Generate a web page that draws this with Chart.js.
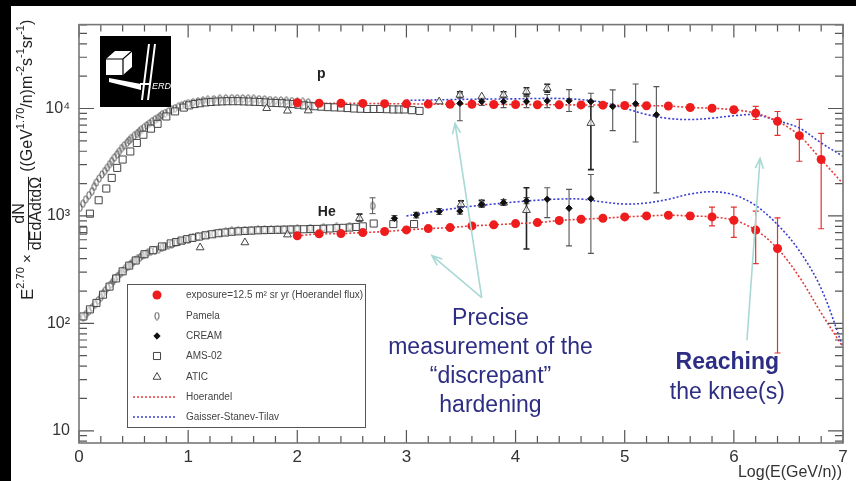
<!DOCTYPE html>
<html>
<head>
<meta charset="utf-8">
<script src="https://cdn.jsdelivr.net/npm/chart.js@4.4.0/dist/chart.umd.min.js"></script>
<style>
  html, body { margin: 0; padding: 0; background: #000; }
  #panel { position: absolute; left: 11px; top: 6px; width: 845px; height: 475px; background: #fff; }
</style>
</head>
<body>
<div id="panel"><canvas id="fluxChart" width="845" height="475"></canvas></div>
<script>
const FONT = "'Liberation Sans', Arial, Helvetica, sans-serif"

// axis ticks
const xTickVals = [0, 1, 2, 3, 4, 5, 6, 7]
const xTickText = ['0', '1', '2', '3', '4', '5', '6', '7']
const yTickVals = [10, 100, 1000, 10000]
const yTickText = ['10', '10²', '10³', '10⁴']

// simulated HERD points (exposure 12.5 m2 sr yr, Hoerandel flux)
const herdPE = [2.0, 2.2, 2.4, 2.6, 2.8, 3.0, 3.2, 3.4, 3.6, 3.8, 4.0, 4.2, 4.4, 4.6, 4.8, 5.0, 5.2, 5.4, 5.6, 5.8, 6.0, 6.2, 6.4, 6.6, 6.8]
const herdP = [11300, 11200, 11200, 11150, 11100, 11050, 11000, 10950, 10950, 10900, 10900, 10850, 10820, 10800, 10750, 10660, 10620, 10550, 10210, 10060, 9730, 9040, 7590, 5590, 3350]
const herdPErr = [[5.6, 9800, 10650], [5.8, 9550, 10550], [6.0, 9200, 10250], [6.2, 7900, 10450], [6.4, 5620, 9380], [6.6, 3230, 7910], [6.8, 760, 5880]]
const herdHeE = [2.0, 2.2, 2.4, 2.6, 2.8, 3.0, 3.2, 3.4, 3.6, 3.8, 4.0, 4.2, 4.4, 4.6, 4.8, 5.0, 5.2, 5.4, 5.6, 5.8, 6.0, 6.2, 6.4]
const herdHe = [653, 681, 685, 700, 716, 741, 762, 779, 808, 826, 849, 867, 906, 932, 952, 979, 1000, 1015, 1000, 979, 912, 738, 498]
const herdHeErr = [[5.0, 940, 1020], [5.2, 955, 1045], [5.4, 960, 1070], [5.6, 930, 1060], [5.8, 807, 1210], [6.0, 631, 1210], [6.2, 360, 1110], [6.4, 53, 958]]

// model curves
const hoerE = [2.0, 2.2, 2.4, 2.6, 2.8, 3.0, 3.2, 3.4, 3.6, 3.8, 4.0, 4.2, 4.4, 4.6, 4.8, 5.0, 5.2, 5.4, 5.6, 5.8, 6.0, 6.2, 6.4, 6.6, 6.8, 7.0]
const hoerP = [11300, 11200, 11200, 11150, 11100, 11050, 11000, 10950, 10950, 10900, 10900, 10850, 10820, 10800, 10750, 10660, 10620, 10550, 10210, 10060, 9730, 9040, 7590, 5590, 3350, 2000]
const hoerHe = [653, 681, 685, 700, 716, 741, 762, 779, 808, 826, 849, 867, 906, 932, 952, 979, 1000, 1015, 1000, 979, 912, 738, 498, 270, 125, 60]
const gstE = [3.0, 3.2, 3.4, 3.6, 3.8, 4.0, 4.2, 4.4, 4.6, 4.8, 5.0, 5.2, 5.4, 5.6, 5.8, 6.0, 6.2, 6.4, 6.6, 6.8, 7.0]
const gstP = [11900, 12000, 12100, 12200, 12250, 12300, 12400, 12400, 12100, 11400, 10050, 8800, 8080, 7900, 8130, 8560, 8740, 7690, 6580, 4780, 3590]
const gstHe = [1000, 1080, 1160, 1230, 1290, 1350, 1400, 1435, 1435, 1350, 1290, 1320, 1430, 1600, 1680, 1570, 1250, 830, 474, 211, 60]

// Pamela
const pamelaPE = [0.01, 0.035, 0.06, 0.09, 0.12, 0.14, 0.16, 0.185, 0.21, 0.235, 0.26, 0.28, 0.30, 0.325, 0.35, 0.37, 0.39, 0.415, 0.44, 0.46, 0.48, 0.505, 0.53, 0.55, 0.57, 0.595, 0.62, 0.645, 0.67, 0.695, 0.72, 0.74, 0.76, 0.79, 0.82, 0.85, 0.88, 0.91, 0.94, 0.97, 1.00, 1.045, 1.09, 1.135, 1.18, 1.235, 1.29, 1.345, 1.40, 1.45, 1.50, 1.55, 1.60, 1.65, 1.70, 1.75, 1.80, 1.85, 1.90, 1.95, 2.00, 2.05, 2.10]
const pamelaP = [1190, 1300, 1420, 1560, 1700, 1870, 2050, 2240, 2430, 2620, 2820, 3030, 3240, 3490, 3750, 4000, 4280, 4540, 4800, 5050, 5310, 5550, 5800, 6050, 6320, 6630, 6950, 7260, 7580, 7860, 8150, 8450, 8750, 9070, 9400, 9730, 10060, 10350, 10650, 10920, 11200, 11420, 11650, 11850, 12030, 12170, 12300, 12380, 12450, 12430, 12400, 12350, 12300, 12200, 12100, 12000, 11900, 11850, 11780, 11700, 11600, 11500, 11400]
const pamelaHeE = [0.04, 0.065, 0.09, 0.12, 0.15, 0.175, 0.20, 0.22, 0.24, 0.265, 0.29, 0.31, 0.33, 0.355, 0.38, 0.40, 0.42, 0.445, 0.47, 0.49, 0.51, 0.535, 0.56, 0.58, 0.60, 0.63, 0.66, 0.695, 0.73, 0.76, 0.79, 0.82, 0.85, 0.885, 0.92, 0.96, 1.00, 1.045, 1.09, 1.135, 1.18, 1.235, 1.29, 1.345, 1.40, 1.46, 1.52, 1.58, 1.64, 1.70, 1.76, 1.82, 1.88, 1.94, 2.00, 2.12, 2.24, 2.36, 2.48, 2.69]
const pamelaHe = [114, 122, 130, 140, 151, 163, 175, 188, 202, 216, 230, 245, 260, 275, 290, 305, 321, 336, 352, 367, 383, 398, 412, 427, 441, 455, 468, 480, 492, 506, 520, 533, 547, 562, 578, 593, 608, 624, 640, 654, 667, 682, 697, 712, 726, 730, 735, 737, 740, 742, 745, 747, 750, 755, 760, 770, 780, 790, 800, 1240]
const pamelaHeErr = [[2.69, 1050, 1475]]

// CREAM
const creamPE = [3.49, 3.69, 3.89, 4.10, 4.29, 4.49, 4.69, 4.89, 5.10, 5.29]
const creamP = [11190, 11600, 11600, 11600, 11780, 11780, 11600, 10440, 11060, 8740]
const creamPErr = [[3.49, 7690, 13870], [3.69, 10700, 12600], [3.89, 10200, 12900], [4.10, 10200, 12900], [4.29, 10200, 13500], [4.49, 9380, 15000], [4.69, 10400, 13870], [4.89, 6220, 14900], [5.10, 4880, 16930], [5.29, 1640, 16000]]
const creamHeE = [2.89, 3.09, 3.30, 3.49, 3.69, 3.89, 4.10, 4.29, 4.49, 4.69]
const creamHe = [950, 1020, 1100, 1110, 1280, 1330, 1380, 1430, 1180, 1445]
const creamHeErr = [[2.89, 900, 1010], [3.09, 960, 1080], [3.30, 1030, 1170], [3.49, 1040, 1190], [3.69, 1200, 1380], [3.89, 1250, 1420], [4.10, 1300, 1480], [4.29, 964, 1830], [4.49, 527, 1766], [4.69, 448, 2430]]

// AMS-02
const amsPE = [0.04, 0.10, 0.18, 0.25, 0.30, 0.35, 0.40, 0.47, 0.53, 0.59, 0.66, 0.72, 0.80, 0.88, 0.96, 1.01, 1.06, 1.11, 1.16, 1.21, 1.26, 1.31, 1.36, 1.41, 1.46, 1.51, 1.56, 1.61, 1.66, 1.71, 1.76, 1.81, 1.86, 1.91, 1.96, 2.01, 2.06, 2.11, 2.16, 2.22, 2.28, 2.34, 2.40, 2.46, 2.52, 2.58, 2.64, 2.70, 2.76, 2.82, 2.88, 2.93, 2.98, 3.05, 3.12]
const amsP = [730, 1050, 1400, 1800, 2260, 2800, 3350, 3980, 4780, 5700, 6500, 7200, 8430, 9400, 10200, 10700, 11000, 11200, 11400, 11500, 11600, 11650, 11700, 11700, 11700, 11650, 11600, 11550, 11500, 11400, 11300, 11250, 11200, 11100, 11000, 10850, 10700, 10600, 10500, 10400, 10300, 10250, 10200, 10100, 10000, 9950, 9900, 9900, 9900, 9850, 9800, 9800, 9800, 9650, 9500]
const amsHeE = [0.04, 0.10, 0.16, 0.22, 0.28, 0.34, 0.40, 0.46, 0.52, 0.60, 0.68, 0.76, 0.84, 0.89, 0.94, 0.99, 1.04, 1.10, 1.16, 1.22, 1.28, 1.34, 1.40, 1.46, 1.52, 1.58, 1.64, 1.70, 1.76, 1.82, 1.88, 1.94, 2.00, 2.06, 2.12, 2.18, 2.24, 2.30, 2.36, 2.42, 2.48, 2.54, 2.60, 2.70, 2.88, 3.07]
const amsHe = [116, 135, 155, 185, 220, 262, 305, 345, 385, 440, 480, 520, 555, 572, 590, 608, 625, 643, 660, 675, 690, 701, 712, 719, 725, 730, 735, 738, 740, 743, 745, 748, 750, 752, 755, 757, 760, 765, 770, 775, 780, 790, 800, 850, 840, 840]

// ATIC
const aticPE = [1.72, 1.91, 2.10, 3.30, 3.49, 3.69, 3.89, 4.10, 4.29, 4.69]
const aticP = [10060, 9520, 9560, 11600, 13390, 12900, 13390, 14400, 15400, 7310]
const aticPErr = [[3.49, 12600, 14300], [3.89, 12600, 14300], [4.10, 13400, 15600], [4.29, 14200, 16800], [4.69, 2700, 11600]]
const aticHeE = [1.11, 1.52, 1.91, 2.57, 3.50, 3.69, 3.89, 4.10]
const aticHe = [508, 566, 670, 950, 1282, 1300, 1330, 1130]
const aticHeErr = [[2.57, 900, 1040], [3.50, 1220, 1380], [3.69, 1240, 1400], [4.10, 492, 1830]]

// annotations, placed in data coordinates
const noteHardening = { x: 3.77, y: 111, lines: ['Precise', 'measurement of the', '\u201cdiscrepant\u201d', 'hardening'] }
const noteKnee = { x: 5.94, y: 42.7, lines: ['Reaching', 'the knee(s)'] }
const arrows = [
    { from: [3.69, 174], to: [3.445, 7260] },
    { from: [3.69, 174], to: [3.234, 427] },
    { from: [6.12, 69.7], to: [6.24, 3440] },
]
const speciesLabels = [{ text: 'p', x: 2.22, y: 21100 }, { text: 'He', x: 2.27, y: 1090 }]

const toPts = (xs, ys) => xs.map((x, i) => ({ x, y: ys[i] }))

// narrow open ellipse marker used for Pamela
const pamelaMarker = document.createElement('canvas')
pamelaMarker.width = 6
pamelaMarker.height = 9
const pm = pamelaMarker.getContext('2d')
pm.strokeStyle = '#555'
pm.lineWidth = 1
pm.beginPath()
pm.ellipse(3, 4.5, 2.1, 3.7, 0, 0, Math.PI * 2)
pm.stroke()

const redStyle = { pointStyle: 'circle', pointRadius: 4.5, backgroundColor: '#ee1c1c', borderColor: '#ee1c1c', borderWidth: 0, errColor: '#e53030', errWidth: 1.2 }
const creamStyle = { pointStyle: 'rectRot', pointRadius: 3.2, backgroundColor: '#111', borderColor: '#111', borderWidth: 1, errColor: '#555', errWidth: 1.1 }
const aticStyle = { pointStyle: 'triangle', pointRadius: 4.5, backgroundColor: 'rgba(255,255,255,0.7)', borderColor: '#444', borderWidth: 1, errColor: '#222', errWidth: 1.6 }
const amsStyle = { pointStyle: 'rect', pointRadius: 5, backgroundColor: 'rgba(255,255,255,0.5)', borderColor: '#444', borderWidth: 1 }
const pamelaStyle = { pointStyle: pamelaMarker, pointRadius: 3, borderWidth: 1, errColor: '#555', errWidth: 1 }
const hoerStyle = { showLine: true, pointRadius: 0, borderColor: '#e83a3a', borderWidth: 1.6, borderDash: [2, 2], tension: 0.35, fill: false }
const gstStyle = { showLine: true, pointRadius: 0, borderColor: '#3b3fd4', borderWidth: 1.6, borderDash: [2, 2], tension: 0.35, fill: false }

const datasets = [
    { label: 'herd p', data: toPts(herdPE, herdP), errorBars: herdPErr, ...redStyle },
    { label: 'herd He', data: toPts(herdHeE, herdHe), errorBars: herdHeErr, ...redStyle },
    { label: 'CREAM p', data: toPts(creamPE, creamP), errorBars: creamPErr, ...creamStyle },
    { label: 'CREAM He', data: toPts(creamHeE, creamHe), errorBars: creamHeErr, ...creamStyle },
    { label: 'ATIC p', data: toPts(aticPE, aticP), errorBars: aticPErr, ...aticStyle },
    { label: 'ATIC He', data: toPts(aticHeE, aticHe), errorBars: aticHeErr, ...aticStyle },
    { label: 'AMS p', data: toPts(amsPE, amsP), ...amsStyle },
    { label: 'AMS He', data: toPts(amsHeE, amsHe), ...amsStyle },
    { label: 'Pamela p', data: toPts(pamelaPE, pamelaP), ...pamelaStyle },
    { label: 'Pamela He', data: toPts(pamelaHeE, pamelaHe), errorBars: pamelaHeErr, ...pamelaStyle },
    { label: 'Hoerandel p', data: toPts(hoerE, hoerP), ...hoerStyle },
    { label: 'Hoerandel He', data: toPts(hoerE, hoerHe), ...hoerStyle },
    { label: 'GST p', data: toPts(gstE, gstP), ...gstStyle },
    { label: 'GST He', data: toPts(gstE, gstHe), ...gstStyle },
]

const legendRows = [
    { text: 'exposure=12.5 m² sr yr (Hoerandel flux)', style: redStyle },
    { text: 'Pamela', style: pamelaStyle },
    { text: 'CREAM', style: creamStyle },
    { text: 'AMS-02', style: amsStyle },
    { text: 'ATIC', style: aticStyle },
    { text: 'Hoerandel', line: hoerStyle },
    { text: 'Gaisser-Stanev-Tilav', line: gstStyle },
]

const errorBarPlugin = {
    id: 'errorBars',
    beforeDatasetsDraw(chart) {
        const { ctx, chartArea: a, scales: { x, y } } = chart
        ctx.save()
        ctx.beginPath()
        ctx.rect(a.left, a.top, a.right - a.left, a.bottom - a.top)
        ctx.clip()
        chart.data.datasets.forEach(ds => {
            if (!ds.errorBars) return
            ctx.strokeStyle = ds.errColor
            ctx.lineWidth = ds.errWidth
            ds.errorBars.forEach(([e, lo, hi]) => {
                const px = x.getPixelForValue(e)
                const p1 = y.getPixelForValue(lo)
                const p2 = y.getPixelForValue(hi)
                ctx.beginPath()
                ctx.moveTo(px, p1); ctx.lineTo(px, p2)
                ctx.moveTo(px - 3, p1); ctx.lineTo(px + 3, p1)
                ctx.moveTo(px - 3, p2); ctx.lineTo(px + 3, p2)
                ctx.stroke()
            })
        })
        ctx.restore()
    }
}

function drawParts(ctx, parts, u) {
    parts.forEach(p => {
        ctx.font = p.size + 'px ' + FONT
        ctx.fillText(p.t, u, p.v || 0)
        u += ctx.measureText(p.t).width
    })
    return u
}

function drawArrow(ctx, x1, y1, x2, y2) {
    const ang = Math.atan2(y2 - y1, x2 - x1)
    ctx.beginPath()
    ctx.moveTo(x1, y1); ctx.lineTo(x2, y2)
    ctx.moveTo(x2 - 11 * Math.cos(ang - 0.38), y2 - 11 * Math.sin(ang - 0.38))
    ctx.lineTo(x2, y2)
    ctx.lineTo(x2 - 11 * Math.cos(ang + 0.38), y2 - 11 * Math.sin(ang + 0.38))
    ctx.stroke()
}

const decorPlugin = {
    id: 'decor',
    afterDraw(chart) {
        const { ctx, chartArea: a, scales: { x, y } } = chart
        ctx.save()

        // frame and ROOT style inward ticks
        ctx.strokeStyle = '#555'
        ctx.lineWidth = 1.2
        ctx.beginPath()
        for (let i = 0; i <= 35; i++) {
            const v = i / 5
            const px = x.getPixelForValue(v)
            const len = i % 5 === 0 ? 13 : 7
            ctx.moveTo(px, a.bottom); ctx.lineTo(px, a.bottom - len)
            ctx.moveTo(px, a.top); ctx.lineTo(px, a.top + len)
        }
        for (let d = 1; d <= 10000; d *= 10) {
            for (let k = 1; k <= 9; k++) {
                const v = d * k
                if (v < y.min || v > y.max) continue
                const py = y.getPixelForValue(v)
                const len = k === 1 ? 15 : 8
                ctx.moveTo(a.left, py); ctx.lineTo(a.left + len, py)
                ctx.moveTo(a.right, py); ctx.lineTo(a.right - len, py)
            }
        }
        ctx.stroke()
        ctx.strokeStyle = '#777'
        ctx.lineWidth = 1.6
        ctx.strokeRect(a.left, a.top, a.right - a.left, a.bottom - a.top)

        // species labels
        ctx.fillStyle = '#222'
        ctx.textAlign = 'center'
        ctx.textBaseline = 'middle'
        ctx.font = 'bold 14px ' + FONT
        speciesLabels.forEach(l => ctx.fillText(l.text, x.getPixelForValue(l.x), y.getPixelForValue(l.y)))

        // logo
        ctx.fillStyle = '#000'
        ctx.fillRect(89, 30, 71, 71)
        ctx.fillStyle = '#fff'
        ctx.strokeStyle = '#000'
        ctx.lineWidth = 1.2
        ctx.beginPath()
        ctx.moveTo(95, 53); ctx.lineTo(104, 45); ctx.lineTo(121, 45); ctx.lineTo(121, 61)
        ctx.lineTo(112, 69); ctx.lineTo(95, 69); ctx.closePath()
        ctx.fill()
        ctx.beginPath()
        ctx.moveTo(95, 53); ctx.lineTo(112, 53); ctx.lineTo(121, 45)
        ctx.moveTo(112, 53); ctx.lineTo(112, 69)
        ctx.stroke()
        ctx.beginPath()
        ctx.moveTo(98, 72); ctx.lineTo(130, 78); ctx.lineTo(130, 84); ctx.lineTo(98, 76); ctx.closePath()
        ctx.fill()
        ctx.strokeStyle = '#fff'
        ctx.lineWidth = 2
        ctx.beginPath()
        ctx.moveTo(138, 38); ctx.lineTo(131, 94)
        ctx.moveTo(144, 38); ctx.lineTo(137, 94)
        ctx.moveTo(129, 78); ctx.lineTo(139, 78)
        ctx.stroke()
        ctx.font = 'italic 9px ' + FONT
        ctx.textAlign = 'left'
        ctx.fillText('ERD', 141, 80)

        // legend
        ctx.fillStyle = '#fff'
        ctx.fillRect(116, 278, 238, 143)
        ctx.strokeStyle = '#555'
        ctx.lineWidth = 1
        ctx.strokeRect(116.5, 278.5, 238, 143)
        const rowY = [289, 310, 330, 350, 371, 391, 411]
        legendRows.forEach((r, i) => {
            const yy = rowY[i]
            if (r.line) {
                ctx.save()
                ctx.strokeStyle = r.line.borderColor
                ctx.lineWidth = r.line.borderWidth
                ctx.setLineDash(r.line.borderDash)
                ctx.beginPath(); ctx.moveTo(122, yy); ctx.lineTo(166, yy); ctx.stroke()
                ctx.restore()
            } else {
                const s = r.style
                ctx.fillStyle = s.backgroundColor || '#fff'
                ctx.strokeStyle = s.borderColor || '#555'
                ctx.lineWidth = s.borderWidth
                Chart.helpers.drawPoint(ctx, { pointStyle: s.pointStyle, radius: s.pointRadius, rotation: 0, borderWidth: s.borderWidth }, 146, yy)
            }
            ctx.fillStyle = '#444'
            ctx.font = '10px ' + FONT
            ctx.textAlign = 'left'
            ctx.textBaseline = 'middle'
            ctx.fillText(r.text, 175, yy)
        })

        // axis titles
        ctx.fillStyle = '#333'
        ctx.font = '16px ' + FONT
        ctx.textAlign = 'right'
        ctx.textBaseline = 'middle'
        ctx.fillText('Log(E(GeV/n))', 831, 467)

        ctx.save()
        ctx.translate(17, 294)
        ctx.rotate(-Math.PI / 2)
        ctx.fillStyle = '#222'
        ctx.textAlign = 'left'
        ctx.textBaseline = 'middle'
        let u = drawParts(ctx, [{ t: 'E', size: 17 }, { t: '2.70', size: 11, v: -7 }, { t: ' \u00d7 ', size: 15 }], 0)
        ctx.font = '16px ' + FONT
        const den = 'dEdAdtd\u03a9'
        const dw = ctx.measureText(den).width
        ctx.fillText(den, u, 9)
        ctx.textAlign = 'center'
        ctx.fillText('dN', u + dw / 2, -8)
        ctx.textAlign = 'left'
        ctx.lineWidth = 1
        ctx.strokeStyle = '#222'
        ctx.beginPath(); ctx.moveTo(u, 0.5); ctx.lineTo(u + dw, 0.5); ctx.stroke()
        u += dw + 5
        drawParts(ctx, [
            { t: '((GeV', size: 16 }, { t: '1.70', size: 11, v: -7 }, { t: '/n)m', size: 16 },
            { t: '-2', size: 11, v: -7 }, { t: 's', size: 16 }, { t: '-1', size: 11, v: -7 },
            { t: 'sr', size: 16 }, { t: '-1', size: 11, v: -7 }, { t: ')', size: 16 }
        ], u)
        ctx.restore()

        // arrows
        ctx.strokeStyle = '#a9d9d5'
        ctx.lineWidth = 1.6
        arrows.forEach(ar => drawArrow(ctx,
            x.getPixelForValue(ar.from[0]), y.getPixelForValue(ar.from[1]),
            x.getPixelForValue(ar.to[0]), y.getPixelForValue(ar.to[1])))

        // notes
        ctx.fillStyle = '#2d2e83'
        ctx.textAlign = 'center'
        ctx.textBaseline = 'middle'
        ctx.font = '23px ' + FONT
        const hx = x.getPixelForValue(noteHardening.x)
        const hy = y.getPixelForValue(noteHardening.y)
        noteHardening.lines.forEach((t, i) => ctx.fillText(t, hx, hy + i * 29))
        const kx = x.getPixelForValue(noteKnee.x)
        const ky = y.getPixelForValue(noteKnee.y)
        noteKnee.lines.forEach((t, i) => {
            ctx.font = (i === 0 ? 'bold ' : '') + '23px ' + FONT
            ctx.fillText(t, kx, ky + i * 30)
        })
        ctx.restore()
    }
}

new Chart(document.getElementById('fluxChart'), {
    type: 'scatter',
    data: { datasets },
    options: {
        responsive: false,
        animation: false,
        events: [],
        layout: { padding: { top: 17, right: 13, left: 0, bottom: 0 } },
        plugins: { legend: { display: false }, tooltip: { enabled: false } },
        scales: {
            x: {
                type: 'linear', min: 0, max: 7,
                grid: { display: false, drawTicks: false },
                border: { display: false },
                afterBuildTicks: s => { s.ticks = xTickVals.map(v => ({ value: v })) },
                afterFit: s => { s.height = 38 },
                ticks: {
                    autoSkip: false, maxRotation: 0, padding: 4, color: '#333',
                    font: { family: FONT, size: 17 },
                    callback: v => xTickText[xTickVals.indexOf(v)]
                }
            },
            y: {
                type: 'logarithmic', min: 7.7, max: 60400,
                grid: { display: false, drawTicks: false },
                border: { display: false },
                afterBuildTicks: s => { s.ticks = yTickVals.map(v => ({ value: v })) },
                afterFit: s => { s.width = 68 },
                ticks: {
                    autoSkip: false, padding: 9, color: '#333',
                    font: { family: FONT, size: 16 },
                    callback: v => yTickText[yTickVals.indexOf(v)]
                }
            }
        }
    },
    plugins: [errorBarPlugin, decorPlugin]
})
</script>
</body>
</html>
